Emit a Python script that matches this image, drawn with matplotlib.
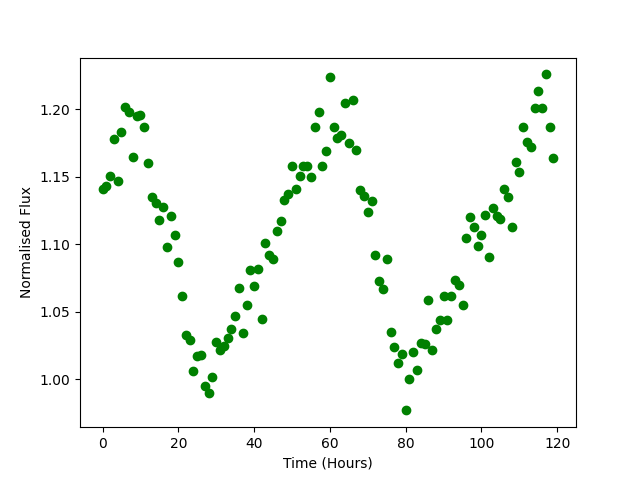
import numpy as np
import matplotlib
matplotlib.use("Agg")
import matplotlib.pyplot as plt

hours = list(range(120))
flux = [
    1.141, 1.143, 1.151, 1.178, 1.147, 1.183, 1.202, 1.198, 1.165, 1.195,
    1.196, 1.187, 1.160, 1.135, 1.131, 1.118, 1.128, 1.098, 1.121, 1.107,
    1.087, 1.062, 1.033, 1.029, 1.006, 1.017, 1.018, 0.995, 0.990, 1.002,
    1.028, 1.022, 1.025, 1.031, 1.037, 1.047, 1.068, 1.034, 1.055, 1.081,
    1.069, 1.082, 1.045, 1.101, 1.092, 1.089, 1.110, 1.117, 1.133, 1.137,
    1.158, 1.141, 1.151, 1.158, 1.158, 1.150, 1.187, 1.198, 1.158, 1.169,
    1.224, 1.187, 1.179, 1.181, 1.205, 1.175, 1.207, 1.170, 1.140, 1.136,
    1.124, 1.132, 1.092, 1.073, 1.067, 1.089, 1.035, 1.024, 1.012, 1.019,
    0.977, 1.000, 1.020, 1.007, 1.027, 1.026, 1.059, 1.022, 1.037, 1.044,
    1.062, 1.044, 1.062, 1.074, 1.070, 1.055, 1.105, 1.120, 1.113, 1.099,
    1.107, 1.122, 1.091, 1.127, 1.121, 1.119, 1.141, 1.135, 1.113, 1.161,
    1.154, 1.187, 1.176, 1.172, 1.201, 1.214, 1.201, 1.226, 1.187, 1.164,
]

fig, ax = plt.subplots(figsize=(6.4, 4.8), dpi=100)
ax.plot(hours, flux, 'o', color='green')
ax.set_xlabel('Time (Hours)')
ax.set_ylabel('Normalised Flux')
fig.savefig('out.png')
